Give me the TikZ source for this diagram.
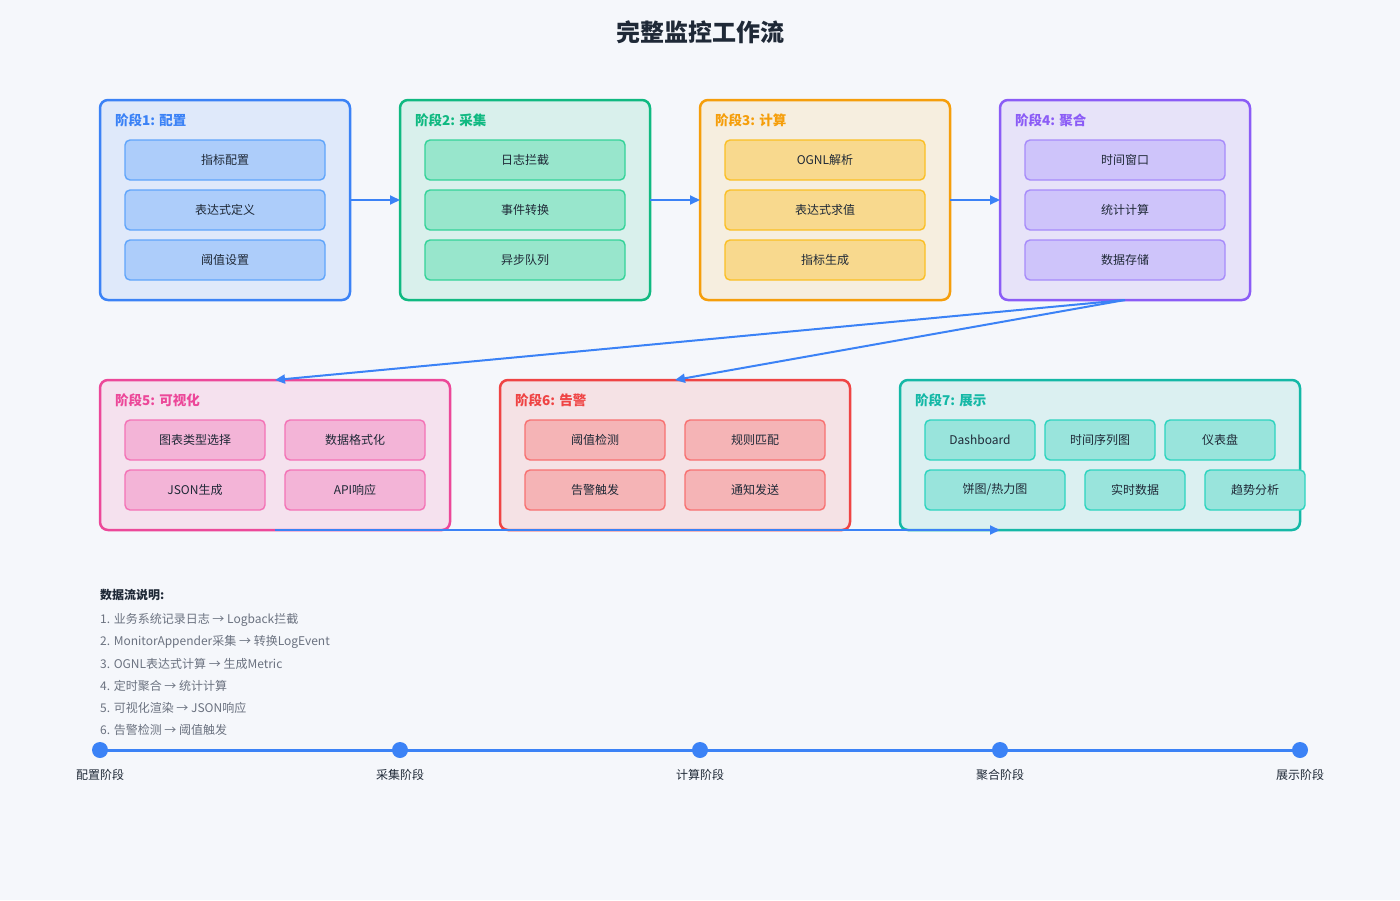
\documentclass[tikz,border=0pt]{standalone}
\usepackage{fontspec}
\setmainfont{Noto Sans CJK SC}
\usetikzlibrary{arrows.meta,calc}
\definecolor{bgc}{HTML}{F5F7FB}
\definecolor{txt}{HTML}{1F2937}
\definecolor{gry}{HTML}{6B7280}
\definecolor{arr}{HTML}{3B82F6}
% stage 1
\definecolor{aB}{HTML}{3B82F6}\definecolor{aF}{HTML}{DFE9FA}\definecolor{aIF}{HTML}{ADCDFA}\definecolor{aIB}{HTML}{60A5FA}
% stage 2
\definecolor{bB}{HTML}{10B981}\definecolor{bF}{HTML}{D9F0EC}\definecolor{bIF}{HTML}{98E6CC}\definecolor{bIB}{HTML}{34D399}
% stage 3
\definecolor{cB}{HTML}{F59E0B}\definecolor{cF}{HTML}{F6EEDF}\definecolor{cIF}{HTML}{F8D98E}\definecolor{cIB}{HTML}{FBBF24}
% stage 4
\definecolor{dB}{HTML}{8B5CF6}\definecolor{dF}{HTML}{E7E3F9}\definecolor{dIF}{HTML}{CEC4FA}\definecolor{dIB}{HTML}{A78BFA}
% stage 5
\definecolor{eB}{HTML}{EC4899}\definecolor{eF}{HTML}{F5E1EE}\definecolor{eIF}{HTML}{F3B4D7}\definecolor{eIB}{HTML}{F472B6}
% stage 6
\definecolor{fB}{HTML}{EF4444}\definecolor{fF}{HTML}{F5E2E5}\definecolor{fIF}{HTML}{F5B4B6}\definecolor{fIB}{HTML}{F87171}
% stage 7
\definecolor{gB}{HTML}{14B8A6}\definecolor{gF}{HTML}{DBF0F1}\definecolor{gIF}{HTML}{99E4DC}\definecolor{gIB}{HTML}{2DD4BF}
\tikzset{
  stagebox/.style={draw=#1B, fill=#1F, line width=2.5pt, rounded corners=8pt, anchor=north west, inner sep=0pt, outer sep=0pt},
  stagettl/.style={text=#1B, anchor=west, font=\fontsize{13.5}{16}\selectfont\bfseries, inner sep=0pt},
  ibox/.style={draw=#1IB, fill=#1IF, line width=1.4pt, rounded corners=5pt, minimum height=40pt, text=txt, font=\fontsize{12}{14}\selectfont, inner sep=0pt, outer sep=0pt},
  flow/.style={draw=arr, line width=2pt, -{Triangle[length=10pt,width=9pt]}},
  note/.style={anchor=west, text=gry, font=\fontsize{12}{14}\selectfont, inner sep=0pt},
  dot/.style={circle, fill=arr, minimum size=16pt, inner sep=0pt},
  tlabel/.style={text=txt, font=\fontsize{12}{14}\selectfont, inner sep=0pt}
}
\begin{document}
\begin{tikzpicture}[x=1pt,y=-1pt]
\fill[bgc] (0,0) rectangle (1400,900);
\useasboundingbox (0,0) rectangle (1400,900);

\node[text=txt, font=\fontsize{24}{28}\selectfont\bfseries] (title) at (700,32) {完整监控工作流};

% row 1 stages
\node[stagebox=a, minimum width=250pt, minimum height=200pt] (s1) at (100,100) {};
\node[stagebox=b, minimum width=250pt, minimum height=200pt] (s2) at (400,100) {};
\node[stagebox=c, minimum width=250pt, minimum height=200pt] (s3) at (700,100) {};
\node[stagebox=d, minimum width=250pt, minimum height=200pt] (s4) at (1000,100) {};
% row 2 stages
\node[stagebox=e, minimum width=350pt, minimum height=150pt] (s5) at (100,380) {};
\node[stagebox=f, minimum width=350pt, minimum height=150pt] (s6) at (500,380) {};
\node[stagebox=g, minimum width=400pt, minimum height=150pt] (s7) at (900,380) {};

\node[stagettl=a] (t1) at (115,120) {阶段1: 配置};
\node[stagettl=b] (t2) at (415,120) {阶段2: 采集};
\node[stagettl=c] (t3) at (715,120) {阶段3: 计算};
\node[stagettl=d] (t4) at (1015,120) {阶段4: 聚合};
\node[stagettl=e] (t5) at (115,400) {阶段5: 可视化};
\node[stagettl=f] (t6) at (515,400) {阶段6: 告警};
\node[stagettl=g] (t7) at (915,400) {阶段7: 展示};

% stage 1 items
\node[ibox=a, minimum width=200pt] (a1) at (225,160) {指标配置};
\node[ibox=a, minimum width=200pt] (a2) at (225,210) {表达式定义};
\node[ibox=a, minimum width=200pt] (a3) at (225,260) {阈值设置};
% stage 2 items
\node[ibox=b, minimum width=200pt] (b1) at (525,160) {日志拦截};
\node[ibox=b, minimum width=200pt] (b2) at (525,210) {事件转换};
\node[ibox=b, minimum width=200pt] (b3) at (525,260) {异步队列};
% stage 3 items
\node[ibox=c, minimum width=200pt] (c1) at (825,160) {OGNL解析};
\node[ibox=c, minimum width=200pt] (c2) at (825,210) {表达式求值};
\node[ibox=c, minimum width=200pt] (c3) at (825,260) {指标生成};
% stage 4 items
\node[ibox=d, minimum width=200pt] (d1) at (1125,160) {时间窗口};
\node[ibox=d, minimum width=200pt] (d2) at (1125,210) {统计计算};
\node[ibox=d, minimum width=200pt] (d3) at (1125,260) {数据存储};
% stage 5 items
\node[ibox=e, minimum width=140pt] (e1) at (195,440) {图表类型选择};
\node[ibox=e, minimum width=140pt] (e2) at (355,440) {数据格式化};
\node[ibox=e, minimum width=140pt] (e3) at (195,490) {JSON生成};
\node[ibox=e, minimum width=140pt] (e4) at (355,490) {API响应};
% stage 6 items
\node[ibox=f, minimum width=140pt] (f1) at (595,440) {阈值检测};
\node[ibox=f, minimum width=140pt] (f2) at (755,440) {规则匹配};
\node[ibox=f, minimum width=140pt] (f3) at (595,490) {告警触发};
\node[ibox=f, minimum width=140pt] (f4) at (755,490) {通知发送};
% stage 7 items
\node[ibox=g, minimum width=110pt] (g1) at (980,440) {Dashboard};
\node[ibox=g, minimum width=110pt] (g2) at (1100,440) {时间序列图};
\node[ibox=g, minimum width=110pt] (g3) at (1220,440) {仪表盘};
\node[ibox=g, minimum width=140pt] (g4) at (995,490) {饼图/热力图};
\node[ibox=g, minimum width=100pt] (g5) at (1135,490) {实时数据};
\node[ibox=g, minimum width=100pt] (g6) at (1255,490) {趋势分析};

% connectors
\draw[flow] (s1.east) -- (s2.west);
\draw[flow] (s2.east) -- (s3.west);
\draw[flow] (s3.east) -- (s4.west);
\draw[flow] (s4.south) -- (s5.north);
\draw[flow] (s4.south) -- (s6.north);
\coordinate (s7in) at ($(s7.south west)!0.25!(s7.south east)$);
\draw[flow] (s5.south) -- (s7in);

% notes
\node[anchor=west, text=txt, font=\fontsize{12}{14}\selectfont\bfseries, inner sep=0pt] (nh) at (100,595) {数据流说明:};
\node[note] (n1) at (100,620) {1. 业务系统记录日志 → Logback拦截};
\node[note] (n2) at (100,642) {2. MonitorAppender采集 → 转换LogEvent};
\node[note] (n3) at (100,664) {3. OGNL表达式计算 → 生成Metric};
\node[note] (n4) at (100,686) {4. 定时聚合 → 统计计算};
\node[note] (n5) at (100,708) {5. 可视化渲染 → JSON响应};
\node[note] (n6) at (100,730) {6. 告警检测 → 阈值触发};

% timeline
\node[dot] (p1) at (100,750) {};
\node[dot] (p2) at (400,750) {};
\node[dot] (p3) at (700,750) {};
\node[dot] (p4) at (1000,750) {};
\node[dot] (p5) at (1300,750) {};
\draw[draw=arr, line width=3pt] (p1.center) -- (p5.center);
\node[tlabel] (l1) at (100,775) {配置阶段};
\node[tlabel] (l2) at (400,775) {采集阶段};
\node[tlabel] (l3) at (700,775) {计算阶段};
\node[tlabel] (l4) at (1000,775) {聚合阶段};
\node[tlabel] (l5) at (1300,775) {展示阶段};
\end{tikzpicture}
\end{document}
